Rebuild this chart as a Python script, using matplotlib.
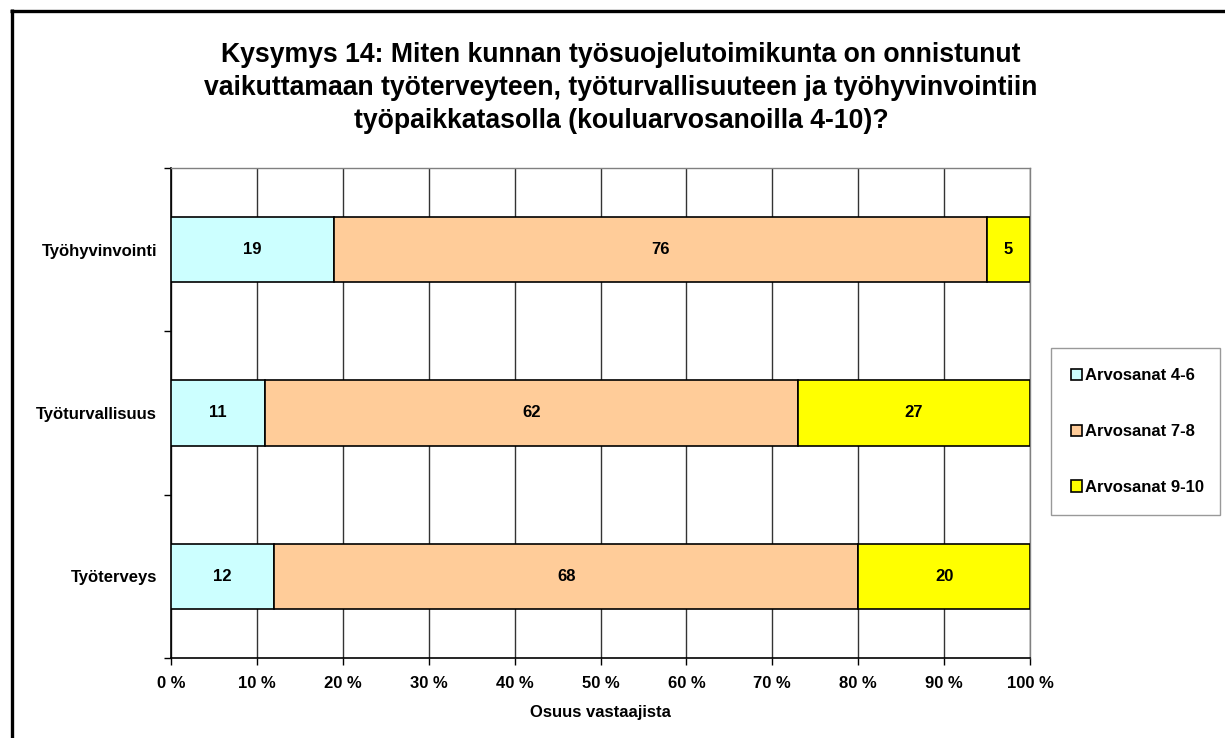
import numpy as np
import matplotlib.pyplot as plt
from matplotlib.lines import Line2D
from matplotlib.ticker import MultipleLocator, FixedLocator

plt.rcParams['font.family'] = ['Liberation Sans', 'DejaVu Sans']
plt.rcParams['font.weight'] = 'bold'

# data (bottom to top)
categories = ['Työterveys', 'Työturvallisuus', 'Työhyvinvointi']
grade_4_6 = [12, 11, 19]
grade_7_8 = [68, 62, 76]
grade_9_10 = [20, 27, 5]
series_names = ['Arvosanat 4-6', 'Arvosanat 7-8', 'Arvosanat 9-10']
colors = ['#CCFFFF', '#FFCC99', '#FFFF00']

title = ('Kysymys 14: Miten kunnan työsuojelutoimikunta on onnistunut\n'
         'vaikuttamaan työterveyteen, työturvallisuuteen ja työhyvinvointiin\n'
         'työpaikkatasolla (kouluarvosanoilla 4-10)?')

W, H = 1225, 738
fs = 12
fig = plt.figure(figsize=(W / 100, H / 100), dpi=100)
ax = fig.add_axes([171 / W, 1 - 658 / H, (1030 - 171) / W, (658 - 168) / H])

y = np.arange(len(categories))
left = np.zeros(len(categories))
for vals, name, col in zip([grade_4_6, grade_7_8, grade_9_10], series_names, colors):
    bars = ax.barh(y, vals, left=left, height=0.4, color=col, edgecolor='black',
                   linewidth=1.2, label=name, zorder=3)
    ax.bar_label(bars, labels=[str(v) for v in vals], label_type='center',
                 fontsize=fs, fontweight='bold')
    left = left + np.array(vals)

ax.set_xlim(0, 100)
ax.set_ylim(-0.5, len(categories) - 0.5)
ax.xaxis.set_major_locator(MultipleLocator(10))
ax.set_xticklabels([f'{int(t)} %' for t in ax.get_xticks()])
ax.set_yticks(y)
ax.set_yticklabels(categories)
ax.yaxis.set_minor_locator(FixedLocator(np.arange(-0.5, len(categories), 1.0)))
ax.tick_params(axis='y', which='major', length=0, pad=10, labelsize=fs)
ax.tick_params(axis='y', which='minor', length=5, width=1, color='black', direction='out')
ax.tick_params(axis='x', which='major', length=5, width=1, color='black',
               direction='out', pad=8, labelsize=fs)
ax.grid(axis='x', color='#333333', linewidth=1, zorder=0)
ax.set_axisbelow(True)
for side in ['left', 'bottom']:
    ax.spines[side].set_color('black')
    ax.spines[side].set_linewidth(1.2)
for side in ['top', 'right']:
    ax.spines[side].set_color('#808080')
    ax.spines[side].set_linewidth(1)

ax.set_xlabel('Osuus vastaajista', fontsize=fs, fontweight='bold', labelpad=10)

fig.text(621 / W, 1 - 88 / H, title, ha='center', va='center', multialignment='center',
         fontsize=19.2, fontweight='bold', linespacing=1.33)

leg = ax.legend(loc='center left', bbox_to_anchor=(1051 / W, 1 - 514 / H, 169 / W, 165 / H),
                bbox_transform=fig.transFigure, mode='expand', fontsize=fs,
                handlelength=0.65, handleheight=0.65, handletextpad=0.2,
                labelspacing=2.45, borderpad=1.2, borderaxespad=0, fancybox=False)
leg.get_frame().set_edgecolor('#808080')
leg.get_frame().set_linewidth(1)
for t in leg.get_texts():
    t.set_fontweight('bold')

# outer frame (top and left edges visible)
fig.add_artist(Line2D([10 / W, 1], [1 - 10.5 / H, 1 - 10.5 / H], color='black',
                      linewidth=2.4, solid_capstyle='butt', transform=fig.transFigure))
fig.add_artist(Line2D([11.5 / W, 11.5 / W], [0, 1 - 9 / H], color='black',
                      linewidth=2.4, solid_capstyle='butt', transform=fig.transFigure))

fig.savefig('out.png', dpi=100, facecolor='white')
